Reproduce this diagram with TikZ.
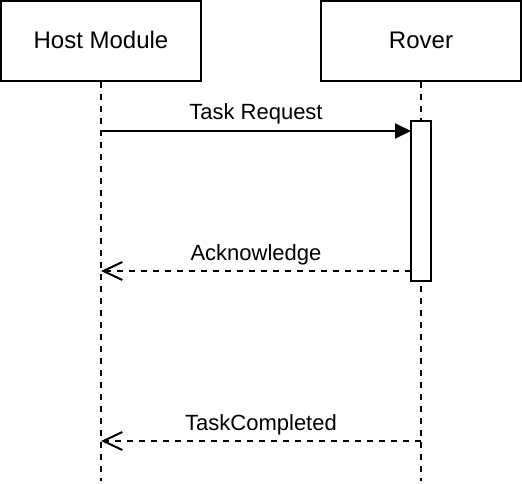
\documentclass[tikz,border=0pt]{standalone}
\usepackage{fontspec}
\setmainfont{Liberation Sans}
\usetikzlibrary{arrows.meta}
\begin{document}
\begin{tikzpicture}[x=1pt,y=-1pt,
  lifebox/.style={draw,line width=2pt,fill=white,minimum width=200pt,minimum height=80pt,inner sep=0pt},
  boxlabel/.style={anchor=base,inner sep=0pt,font=\fontsize{24}{28}\selectfont},
  lifeline/.style={line width=2pt,dash pattern=on 6pt off 6pt},
  actbox/.style={draw,line width=2pt,fill=white,minimum width=20pt,minimum height=160pt,inner sep=0pt},
  call/.style={line width=2pt,-{Triangle[length=16pt,width=15pt]}},
  reply/.style={line width=2pt,dash pattern=on 6pt off 6pt,-{Straight Barb[length=19pt,width=18pt,line width=2pt]}},
  msglabel/.style={anchor=base,inner sep=0pt,font=\fontsize{22}{26}\selectfont}]
\useasboundingbox (0,0) rectangle (522,484);
\node[lifebox] (host) at (101,41) {};
\node[lifebox] (rover) at (421,41) {};
\node[boxlabel] (hostlbl) at (101,49) {Host Module};
\node[boxlabel] (roverlbl) at (421,49) {Rover};
\coordinate (hostend) at (101,481);
\coordinate (roverend) at (421,481);
\draw[lifeline] (host.south) -- (hostend);
\draw[lifeline] (rover.south) -- (roverend);
\node[actbox] (act) at (421,201) {};
\coordinate (h1) at (101,131);
\coordinate (a1) at (411,131);
\coordinate (h2) at (101,271);
\coordinate (a2) at (411,271);
\coordinate (h3) at (101,441);
\coordinate (r3) at (421,441);
\draw[call] (h1) -- (a1);
\draw[reply] (a2) -- (h2);
\draw[reply] (r3) -- (h3);
\node[msglabel] (l1) at (256,120) {Task Request};
\node[msglabel] (l2) at (256,260) {Acknowledge};
\node[msglabel] (l3) at (261,430) {TaskCompleted};
\end{tikzpicture}
\end{document}
